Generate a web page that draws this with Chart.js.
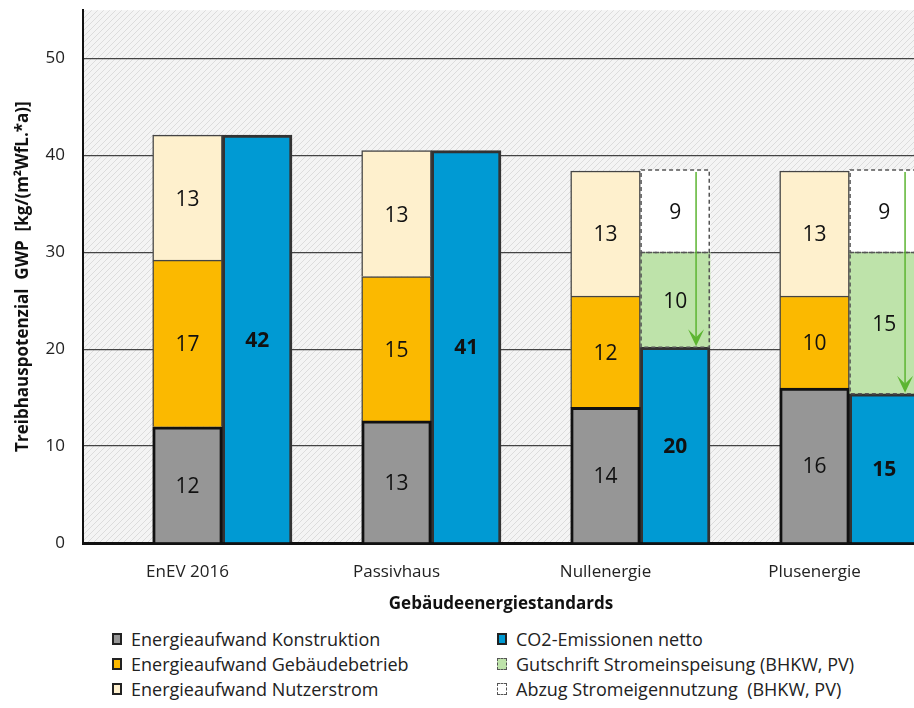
<!DOCTYPE html>
<html>
<head>
<meta charset="utf-8">
<script src="https://cdn.jsdelivr.net/npm/chart.js@4.4.0/dist/chart.umd.min.js"></script>
<style>
  html, body { margin: 0; padding: 0; background: #fff; overflow: hidden; }
  #wrap { position: relative; width: 919px; height: 618px; }
  #chart { position: absolute; left: 0; top: -18px; }
  #legend {
    position: absolute; left: 112px; top: 629px;
    display: grid; grid-template-columns: 385px 420px; row-gap: 5px;
    font-family: "Open Sans", "Noto Sans", sans-serif; font-size: 18px; color: #222;
  }
  .item { display: flex; align-items: center; height: 20px; white-space: pre; }
  .box { width: 10px; height: 12px; margin-right: 9px; box-sizing: border-box; }
</style>
</head>
<body>
<div id="wrap"><canvas id="chart" width="919" height="636"></canvas></div>
<div id="legend"></div>
<script>
// === Data ===
const categories = ["EnEV 2016", "Passivhaus", "Nullenergie", "Plusenergie"];
const konstruktion = [12, 12.6, 14, 16];
const gebaeudebetrieb = [17.2, 14.9, 11.5, 9.5];
const nutzerstrom = [12.9, 13.0, 12.9, 12.9];
const co2Netto = [42.1, 40.5, 20.2, 15.4];
const gutschrift = [null, null, 9.8, 14.6];
const abzug = [null, null, 8.5, 8.5];
const yTicks = [0, 10, 20, 30, 40, 50];

const seriesNames = {
  konstruktion: "Energieaufwand Konstruktion",
  betrieb: "Energieaufwand Gebäudebetrieb",
  nutzer: "Energieaufwand Nutzerstrom",
  co2: "CO2-Emissionen netto",
  gutschrift: "Gutschrift Stromeinspeisung (BHKW, PV)",
  abzug: "Abzug Stromeigennutzung  (BHKW, PV)"
};

const FONT = '"Open Sans", "Noto Sans", sans-serif';

// hatched background pattern
function makePattern(ctx) {
  const p = document.createElement("canvas");
  p.width = 6; p.height = 6;
  const c = p.getContext("2d");
  c.fillStyle = "#f4f4f4";
  c.fillRect(0, 0, 6, 6);
  c.strokeStyle = "#dcdcdc";
  c.lineWidth = 1;
  c.beginPath();
  c.moveTo(0, 6); c.lineTo(6, 0);
  c.moveTo(-3, 3); c.lineTo(3, -3);
  c.moveTo(3, 9); c.lineTo(9, 3);
  c.stroke();
  return ctx.createPattern(p, "repeat");
}

const bgPlugin = {
  id: "bg",
  beforeDraw(chart) {
    const { ctx, chartArea: a } = chart;
    ctx.save();
    ctx.fillStyle = makePattern(ctx);
    ctx.fillRect(a.left, a.top, a.right - a.left, a.bottom - a.top);
    ctx.restore();
  }
};

// dashed outlines, arrows and value labels
const overlayPlugin = {
  id: "overlay",
  afterDatasetsDraw(chart) {
    const ctx = chart.ctx;
    ctx.save();
    // dashed outlines
    chart.data.datasets.forEach((ds, i) => {
      if (!ds.dashed) return;
      chart.getDatasetMeta(i).data.forEach((bar, j) => {
        if (ds.data[j] == null) return;
        const x0 = bar.x - bar.width / 2, x1 = bar.x + bar.width / 2;
        ctx.setLineDash([4, 3]);
        ctx.strokeStyle = "#555";
        ctx.lineWidth = 1.5;
        ctx.strokeRect(x0 + 0.75, bar.y, x1 - x0 - 1.5, bar.base - bar.y);
      });
    });
    ctx.setLineDash([]);

    // green arrows
    const iAbzug = chart.data.datasets.findIndex(d => d.key === "abzug");
    const iCo2 = chart.data.datasets.findIndex(d => d.key === "co2");
    chart.getDatasetMeta(iAbzug).data.forEach((bar, j) => {
      if (abzug[j] == null) return;
      const target = chart.getDatasetMeta(iCo2).data[j];
      const x = bar.x + bar.width * 0.3;
      const yTop = bar.y + 2, yTip = target.y - 1;
      ctx.strokeStyle = "#5cb531";
      ctx.fillStyle = "#5cb531";
      ctx.lineWidth = 1.5;
      ctx.beginPath();
      ctx.moveTo(x, yTop); ctx.lineTo(x, yTip - 6);
      ctx.stroke();
      ctx.beginPath();
      ctx.moveTo(x, yTip);
      ctx.lineTo(x - 8, yTip - 17);
      ctx.lineTo(x, yTip - 9);
      ctx.lineTo(x + 8, yTip - 17);
      ctx.closePath();
      ctx.fill();
    });

    // value labels
    chart.data.datasets.forEach((ds, i) => {
      if (!ds.key) return;
      chart.getDatasetMeta(i).data.forEach((bar, j) => {
        const v = ds.data[j];
        if (v == null) return;
        ctx.fillStyle = "#111";
        ctx.font = (ds.key === "co2" ? "bold " : "") + "21px " + FONT;
        ctx.textAlign = "center";
        ctx.textBaseline = "middle";
        ctx.fillText(String(Math.round(v)), bar.x, (bar.y + bar.base) / 2 + 2);
      });
    });
    ctx.restore();
  }
};

const datasets = [
  { label: "", data: categories.map(() => null), stack: "pad" },
  { key: "konstruktion", label: seriesNames.konstruktion, data: konstruktion, stack: "a",
    backgroundColor: "#969696", borderColor: "#111", borderWidth: 3 },
  { key: "betrieb", label: seriesNames.betrieb, data: gebaeudebetrieb, stack: "a",
    backgroundColor: "#fbb900", borderColor: "#444", borderWidth: 1.5 },
  { key: "nutzer", label: seriesNames.nutzer, data: nutzerstrom, stack: "a",
    backgroundColor: "#fef0cd", borderColor: "#444", borderWidth: 1.5 },
  { key: "co2", label: seriesNames.co2, data: co2Netto, stack: "b",
    backgroundColor: "#009ad3", borderColor: "#333", borderWidth: 3 },
  { key: "gutschrift", label: seriesNames.gutschrift, data: gutschrift, stack: "b",
    backgroundColor: "#bee3aa", borderWidth: 0, dashed: true },
  { key: "abzug", label: seriesNames.abzug, data: abzug, stack: "b",
    backgroundColor: "#ffffff", borderWidth: 0, dashed: true }
];

const chart = new Chart(document.getElementById("chart"), {
  type: "bar",
  data: { labels: categories, datasets },
  plugins: [bgPlugin, overlayPlugin],
  options: {
    responsive: false,
    animation: false,
    layout: { padding: { top: 9, left: 0, right: 0, bottom: 0 } },
    datasets: { bar: { categoryPercentage: 1, barPercentage: 1 } },
    plugins: { legend: { display: false }, tooltip: { enabled: false } },
    scales: {
      x: {
        stacked: true,
        grid: { display: false, drawTicks: false },
        border: { color: "#111", width: 3 },
        ticks: { color: "#222", font: { family: FONT, size: 17 }, padding: 19 },
        title: { display: true, text: "Gebäudeenergiestandards", color: "#111",
          font: { family: FONT, size: 17, weight: "bold" }, padding: { top: 0 } },
        afterFit(s) { s.height = 75; }
      },
      y: {
        stacked: true,
        min: 0, max: 55,
        afterBuildTicks(s) { s.ticks = yTicks.map(v => ({ value: v })); },
        grid: { color: "#444", lineWidth: 1.3, drawTicks: false },
        border: { color: "#111", width: 2 },
        ticks: { color: "#222", font: { family: FONT, size: 17 }, padding: 18 },
        title: { display: true, text: "Treibhauspotenzial  GWP  [kg/(m²WfL.*a)]", color: "#111",
          font: { family: FONT, size: 17, weight: "bold" }, padding: { top: 13, bottom: 0 } },
        afterFit(s) { s.width = 83; }
      }
    }
  }
});

// === Legend ===
const legendOrder = ["konstruktion", "co2", "betrieb", "gutschrift", "nutzer", "abzug"];
const legendEl = document.getElementById("legend");
legendOrder.forEach(key => {
  const ds = datasets.find(d => d.key === key);
  const item = document.createElement("div");
  item.className = "item";
  const box = document.createElement("span");
  box.className = "box";
  box.style.background = ds.backgroundColor;
  box.style.border = ds.dashed ? "1.5px dashed #555" : "2.5px solid #222";
  item.appendChild(box);
  item.appendChild(document.createTextNode(ds.label));
  legendEl.appendChild(item);
});
</script>
</body>
</html>
